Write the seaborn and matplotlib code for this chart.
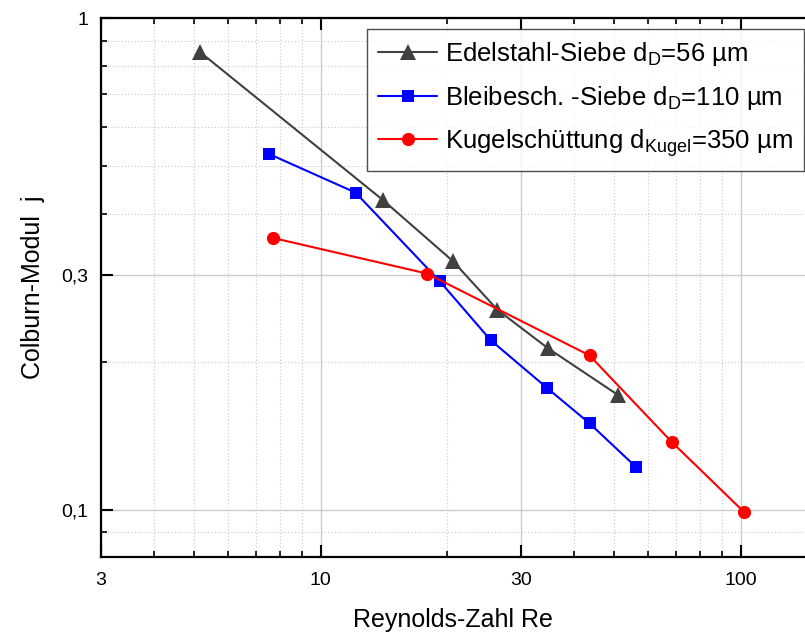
import matplotlib
matplotlib.use("Agg")
import matplotlib.pyplot as plt
import matplotlib.ticker as mticker
import seaborn as sns
import numpy as np

# data (log-log axes)
re_edel = [5.16, 14.1, 20.6, 26.3, 34.7, 50.9]
j_edel = [0.854, 0.426, 0.321, 0.2555, 0.2133, 0.1714]

re_blei = [7.52, 12.1, 19.2, 25.4, 34.5, 43.6, 56.1]
j_blei = [0.530, 0.442, 0.2917, 0.2212, 0.1772, 0.150, 0.1225]

re_kugel = [7.71, 17.9, 43.6, 68.5, 101.8]
j_kugel = [0.3573, 0.3025, 0.2062, 0.1373, 0.0989]

labels = ["Edelstahl-Siebe d$_\\mathregular{D}$=56 µm",
          "Bleibesch. -Siebe d$_\\mathregular{D}$=110 µm",
          "Kugelschüttung d$_\\mathregular{Kugel}$=350 µm"]
x_ticks = [3, 10, 30, 100]
x_ticklabels = ["3", "10", "30", "100"]
y_ticks = [0.1, 0.3, 1]
y_ticklabels = ["0,1", "0,3", "1"]

sns.set_theme(style="white")
plt.rcParams.update({
    'font.family': ['Liberation Sans', 'DejaVu Sans'],
    'mathtext.fontset': 'custom',
    'mathtext.rm': 'Liberation Sans',
    'text.color': 'black',
    'xtick.bottom': True, 'xtick.top': True,
    'ytick.left': True, 'ytick.right': False,
    'xtick.direction': 'in', 'ytick.direction': 'in',
    'xtick.color': 'black', 'ytick.color': 'black',
})

fig = plt.figure(figsize=(8.05, 6.34), dpi=100)
ax = fig.add_axes([0.1255, 0.1219, 0.8745, 0.8492])

series = [(re_edel, j_edel, "^", "#404040", 11),
          (re_blei, j_blei, "s", "#0000ff", 8.5),
          (re_kugel, j_kugel, "o", "#ff0000", 9.5)]
for (x, y, m, c, ms), lab in zip(series, labels):
    sns.lineplot(x=x, y=y, ax=ax, marker=m, color=c, markersize=ms,
                 markeredgewidth=0, linewidth=1.5, label=lab, sort=False)

ax.set_xscale("log")
ax.set_yscale("log")
ax.set_xlim(3, 142)
ax.set_ylim(0.0803, 1)

ax.xaxis.set_major_locator(mticker.FixedLocator(x_ticks))
ax.xaxis.set_major_formatter(mticker.FixedFormatter(x_ticklabels))
ax.xaxis.set_minor_locator(mticker.LogLocator(base=10, subs=np.arange(2, 10)))
ax.xaxis.set_minor_formatter(mticker.NullFormatter())
ax.yaxis.set_major_locator(mticker.FixedLocator(y_ticks))
ax.yaxis.set_major_formatter(mticker.FixedFormatter(y_ticklabels))
ax.yaxis.set_minor_locator(mticker.LogLocator(base=10, subs=np.arange(2, 10)))
ax.yaxis.set_minor_formatter(mticker.NullFormatter())

ax.grid(True, which="major", color="#cccccc", linewidth=1.0, linestyle="-")
ax.grid(True, which="minor", color="#c8c8c8", linewidth=0.8, linestyle=(0, (1, 2)))

ax.tick_params(which="both", direction="in", top=True, bottom=True,
               left=True, right=False, color="black", labelcolor="black")
ax.tick_params(which="major", length=8.5, width=1.5, labelsize=14, pad=9)
ax.tick_params(which="minor", length=4.5, width=1.2)
ax.tick_params(axis="x", which="major", pad=11)

for side in ["left", "bottom", "top"]:
    ax.spines[side].set_color("black")
    ax.spines[side].set_linewidth(1.6)
ax.spines["right"].set_visible(False)

ax.set_xlabel("Reynolds-Zahl Re", fontsize=18, labelpad=14, color="black")
ax.set_ylabel("Colburn-Modul  j", fontsize=18, labelpad=12, color="black")

leg = ax.legend(loc="upper right", bbox_to_anchor=(0.999, 0.981),
                borderaxespad=0, fontsize=18.5, frameon=True, fancybox=False,
                edgecolor="#222222", handlelength=2.3, handletextpad=0.3,
                labelspacing=0.6, borderpad=0.45)
leg.get_frame().set_linewidth(1.0)
for t in leg.get_texts():
    t.set_color("black")

fig.savefig("out.png", dpi=100)
